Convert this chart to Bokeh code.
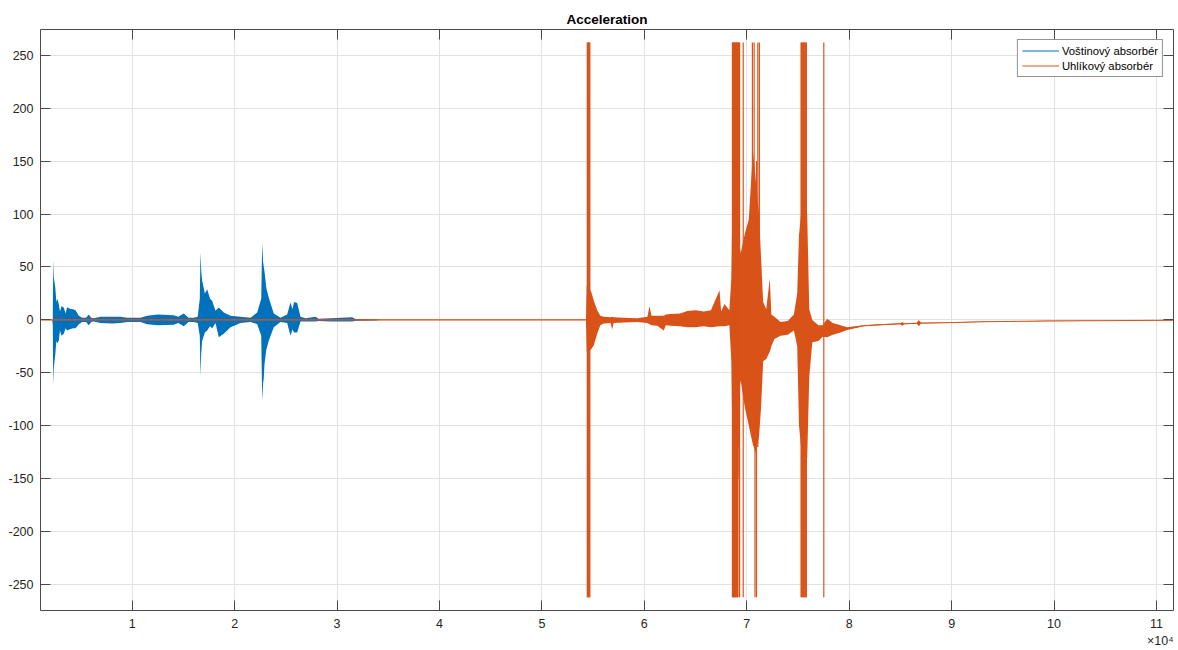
import numpy as np
from bokeh.plotting import figure
from bokeh.models import (Range1d, LinearAxis, FixedTicker, Legend, LegendItem, Title,
                          CustomLabelingPolicy)
from bokeh.embed import file_html
from bokeh.resources import INLINE

# ---------------- data ----------------
# Voštinový absorbér: envelope of the signal (x, upper, lower)
blue_x = [2250, 2290, 2350, 2500, 2600, 2700, 2834, 2950, 3100, 3322, 3500, 3650, 3976, 4250,
          4464, 4790, 5119, 5500, 5763, 6000, 6251, 6905, 8000, 8858, 9512, 10810, 11464, 12500,
          14061, 14500, 15038, 15500, 16014, 16400, 16600, 16668, 16750, 16834, 17100, 17322,
          17600, 17810, 18133, 18455, 18943, 19597, 20573, 21550, 22204, 22600, 22692, 22780,
          22850, 22916, 23100, 23336, 23824, 24478, 25133, 25455, 25650, 25800, 26109, 26431,
          26919, 27896, 28200, 29360, 31478, 31800, 32612, 34000]
blue_upper = [2, 56.5, 40, 30, 17, 20, 15, 8, 13, 11.8, 6, 12, 10.3, 10,
              9, 4, 2, 2, 5, 2, 1.5, 3, 3, 3, 2, 2, 4, 5,
              4.5, 3, 6, 2, 2, 3, 20, 63.7, 45, 37, 25, 29,
              20, 18, 8.7, 11.8, 7, 4, 3, 2, 7, 20, 73, 55,
              50, 46, 30, 21, 6, 2, 5, 16.5, 10, 17, 16, 3,
              1.5, 3, 1, 1.5, 2.5, 0.8, 0.5, 0.2]
blue_lower = [-2, -62.7, -45, -32, -20, -22, -19.6, -10, -15, -13, -8, -10, -8.6, -8,
              -8, -4, -2, -2, -5, -2, -1.5, -3, -3.5, -3, -2, -2, -4, -5,
              -4.5, -3, -6, -2, -2, -3, -15, -53.3, -30, -19.6, -12, -10,
              -6, -8, -3, -16.5, -13, -7, -3, -2, -4, -15, -76.3, -60,
              -55, -41.6, -28, -19.6, -7, -2, -3, -15, -9, -12, -12, -1.5,
              -1.5, -1.4, -1, -1.5, -1.4, -0.8, -0.5, -0.2]

# Uhlíkový absorbér: envelope of the signal (x, upper, lower)
orange_x = [1050, 54300, 54380, 54800, 55070, 55398, 55700, 56043, 56700, 56862, 57000, 57995,
            59303, 60300, 60504, 60700, 61255, 61900, 62100, 62554, 63500, 64185, 65000, 65805,
            66500, 67338, 67500, 67826, 68300, 68500, 68600, 69400, 69800, 70200, 70600, 70900,
            71200, 71400, 71600, 71900, 72250, 72400, 72700, 73300, 74000, 74600, 74924, 75100,
            75500, 75900, 76100, 76400, 77000, 77400, 77853, 78400, 79151, 79805, 81426, 83056,
            85000, 85175, 85400, 86600, 86796, 87000, 89236, 92819, 99330, 105834, 111660]
orange_upper = [0.3, 0.3, 33, 27, 18, 9, 4, 3, 2.5, 3, 2.5, 2,
                1.5, 3, 13, 4, 4, 4, 5, 5.5, 6, 8.5, 9, 8,
                9, 28, 8, 15, 9, 40, 120, 63, 81, 95, 160, 130,
                100, 58, 17, 10, 39, 5, 3, -2, -1, 5, 25, 80,
                120, 100, 10, 0, -5, -5, 1, -3, -5, -7, -5, -4,
                -3.2, -2, -3.3, -2.8, 0, -2.7, -2.5, -1.6, -0.8, -0.5, -0.1]
orange_lower = [-0.3, -0.3, -30, -28, -24, -13, -5, -3.5, -3, -9, -3, -2.5,
                -2, -3, -4, -5, -5.5, -10, -5, -5.5, -6, -7, -7, -6,
                -7, -6, -6, -6, -5, -40, -120, -57, -82, -100, -118, -126,
                -110, -82, -39, -37, -30, -25, -18, -15, -14, -10, -25, -100,
                -140, -130, -54, -21, -20, -16, -16.5, -14, -12, -9.6, -6, -5,
                -4.2, -5.5, -4, -3.6, -6, -3.3, -3, -2, -1.2, -0.9, -0.5]

# Uhlíkový absorbér: clipped full-scale spikes (x, top, bottom)
spike_x = [54430, 54480, 54530, 54580, 54630, 54680,
           68600, 68650, 68700, 68750, 68800, 68850, 68900, 68950, 69000, 69050, 69100,
           69150, 69200, 69250, 69300, 69652,
           70550, 70720, 70800, 70950, 71080, 71230,
           75300, 75360, 75420, 75490, 75550, 75620, 75700, 75760, 75820, 77520]
spike_top = [262, 262, 262, 262, 262, 262,
             262, 262, 262, 262, 262, 262, 262, 262, 262, 262, 262,
             262, 262, 262, 262, 262,
             262, 262, 120, 150, 262, 262,
             262, 262, 262, 262, 262, 262, 262, 262, 262, 262]
spike_bottom = [-262, -262, -262, -262, -262, -262,
                -262, -262, -262, -262, -262, -262, -262, -262, -262, -262, -262,
                -150, -120, -262, -262, -262,
                -90, -110, -262, -262, -120, -60,
                -262, -262, -262, -262, -262, -262, -262, -262, -262, -262]

x_ticks = [10000, 20000, 30000, 40000, 50000, 60000, 70000, 80000, 90000, 100000, 110000]
x_tick_labels = ["1", "2", "3", "4", "5", "6", "7", "8", "9", "10", "11"]
y_ticks = [-250, -200, -150, -100, -50, 0, 50, 100, 150, 200, 250]
y_tick_labels = ["-250", "-200", "-150", "-100", "-50", "0", "50", "100", "150", "200", "250"]

series_names = ["Voštinový absorbér", "Uhlíkový absorbér"]
title_text = "Acceleration"
x_exponent_text = "×10⁴"
BLUE = "#0072BD"
ORANGE = "#D95319"
FONT = "Liberation Sans"
AXC = "#4a4a4a"

# ---------------- figure ----------------
p = figure(width=1178, height=650, output_backend="svg", toolbar_location=None,
           x_range=Range1d(1050, 111660), y_range=Range1d(-274.5, 274.3),
           min_border_left=40, min_border_right=5, min_border_top=29, min_border_bottom=40)
p.outline_line_color = None
p.background_fill_color = "white"
p.border_fill_color = "white"

p.title.text = title_text
p.title.align = "center"
p.title.text_font = FONT
p.title.text_font_size = "13.5px"
p.title.text_font_style = "bold"
p.title.text_color = "#000000"
p.title.standoff = 5

bx = np.array(blue_x, dtype=float)
bu = np.array(blue_upper, dtype=float)
bl = np.array(blue_lower, dtype=float)
ox = np.array(orange_x, dtype=float)
ou = np.array(orange_upper, dtype=float)
ol = np.array(orange_lower, dtype=float)

p.varea(x=bx, y1=bl, y2=bu, fill_color=BLUE)
blue_line = p.line(bx, (bu + bl) / 2, line_color=BLUE, line_width=1)

p.varea(x=ox, y1=ol, y2=ou, fill_color=ORANGE)
orange_line = p.line(ox, (ou + ol) / 2, line_color=ORANGE, line_width=1)
p.segment(x0=spike_x, y0=spike_bottom, x1=spike_x, y1=spike_top,
          line_color=ORANGE, line_width=1.2)

# ---------------- axes ----------------
no_labels = CustomLabelingPolicy(code="""
const all = [...indices];
for (const i of all) indices.unset(i);
return indices;
""")

def style_axis(ax, standoff=6, show_labels=True):
    ax.axis_line_color = AXC
    ax.axis_line_width = 1
    ax.major_tick_line_color = AXC
    ax.major_tick_in = 10
    ax.major_tick_out = 0
    ax.minor_tick_line_color = None
    ax.major_label_text_font = FONT
    ax.major_label_text_color = "#262626"
    ax.major_label_text_font_size = "12.5px"
    ax.major_label_standoff = standoff
    if not show_labels:
        ax.major_label_policy = no_labels
        ax.major_label_text_font_size = "0px"
        ax.major_label_standoff = 0

p.xaxis.ticker = FixedTicker(ticks=x_ticks)
p.xaxis.major_label_overrides = {t: l for t, l in zip(x_ticks, x_tick_labels)}
p.yaxis.ticker = FixedTicker(ticks=y_ticks)
p.yaxis.major_label_overrides = {t: l for t, l in zip(y_ticks, y_tick_labels)}
style_axis(p.xaxis[0], standoff=8)
style_axis(p.yaxis[0], standoff=7)

top_ax = LinearAxis(ticker=FixedTicker(ticks=x_ticks))
right_ax = LinearAxis(ticker=FixedTicker(ticks=y_ticks))
style_axis(top_ax, show_labels=False)
style_axis(right_ax, show_labels=False)
p.add_layout(top_ax, "above")
p.add_layout(right_ax, "right")

p.xgrid.ticker = FixedTicker(ticks=x_ticks)
p.ygrid.ticker = FixedTicker(ticks=y_ticks)
for g in (p.xgrid[0], p.ygrid[0]):
    g.grid_line_color = "#e2e2e2"
    g.grid_line_width = 1

# x exponent, right-aligned under the axis
exp_title = Title(text=x_exponent_text, align="right", text_font=FONT,
                  text_font_size="12.5px", text_font_style="normal",
                  text_color="#262626", standoff=2)
p.add_layout(exp_title, "below")

# ---------------- legend ----------------
legend = Legend(items=[LegendItem(label=series_names[0], renderers=[blue_line]),
                       LegendItem(label=series_names[1], renderers=[orange_line])],
                location="top_right")
legend.label_text_font = FONT
legend.label_text_font_size = "11.3px"
legend.label_text_color = "#000000"
legend.glyph_width = 37
legend.glyph_height = 13
legend.label_height = 13
legend.label_standoff = 3
legend.spacing = 2
legend.padding = 4
legend.margin = 10
legend.border_line_color = "#262626"
legend.border_line_width = 1
legend.background_fill_color = "white"
legend.background_fill_alpha = 1
p.add_layout(legend)

open("out.html", "w").write(file_html(p, INLINE))
